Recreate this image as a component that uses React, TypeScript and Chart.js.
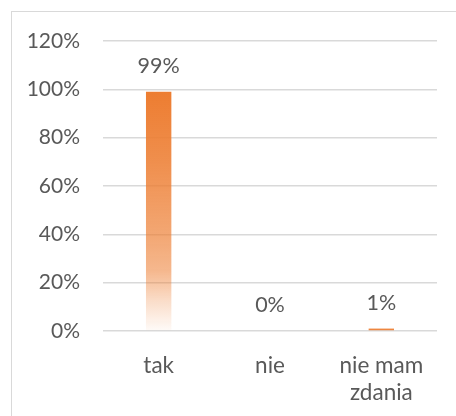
import React, { useEffect, useRef } from "react";
import { Chart, registerables } from "chart.js";

Chart.register(...registerables);

const categories: (string | string[])[] = ["tak", "nie", ["nie mam", "zdania"]];
const values: number[] = [99, 0, 1];
const yTicks: number[] = [0, 20, 40, 60, 80, 100, 120];

const FONT = "Lato, 'Open Sans', sans-serif";
const TEXT = "#595959";

const dataLabels = {
  id: "dataLabels",
  afterDatasetsDraw(chart: any) {
    const ctx = chart.ctx;
    const meta = chart.getDatasetMeta(0);
    ctx.save();
    ctx.font = `21.5px ${FONT}`;
    ctx.fillStyle = TEXT;
    ctx.textAlign = "center";
    ctx.textBaseline = "middle";
    meta.data.forEach((bar: any, i: number) => {
      ctx.fillText(`${values[i]}%`, bar.x, bar.y - 26);
    });
    ctx.restore();
  },
};

export default function App() {
  const ref = useRef<HTMLCanvasElement | null>(null);
  useEffect(() => {
    if (!ref.current) return;
    const chart = new Chart(ref.current, {
      type: "bar",
      data: {
        labels: categories,
        datasets: [
          {
            data: values,
            backgroundColor: (c: any) => {
              const ch = c.chart;
              const y = ch.scales?.y;
              if (!y || c.dataIndex === undefined) return "#ED7D31";
              const v = values[c.dataIndex];
              const top = y.getPixelForValue(v);
              const base = y.getPixelForValue(0);
              if (!isFinite(top) || base - top < 6) return "#EE8640";
              const g = ch.ctx.createLinearGradient(0, top, 0, base);
              g.addColorStop(0, "rgba(237,125,49,1)");
              g.addColorStop(0.3, "rgba(237,125,49,0.86)");
              g.addColorStop(0.6, "rgba(237,125,49,0.68)");
              g.addColorStop(0.75, "rgba(237,125,49,0.55)");
              g.addColorStop(0.88, "rgba(237,125,49,0.25)");
              g.addColorStop(1, "rgba(237,125,49,0.03)");
              return g;
            },
            borderWidth: 0,
            categoryPercentage: 1,
            barPercentage: 0.228,
          },
        ],
      },
      options: {
        animation: false,
        responsive: true,
        maintainAspectRatio: false,
        layout: { padding: { top: 41, right: 19, bottom: 0, left: 0 } },
        plugins: { legend: { display: false }, tooltip: { enabled: false } },
        scales: {
          x: {
            grid: { display: false },
            border: { display: false },
            ticks: {
              color: TEXT,
              font: { family: FONT, size: 22.5, lineHeight: 1.2 },
              padding: 13,
              maxRotation: 0,
              autoSkip: false,
            },
            afterFit: (s: any) => {
              s.height = 85;
            },
          },
          y: {
            min: 0,
            max: 120,
            afterBuildTicks: (s: any) => {
              s.ticks = yTicks.map((v) => ({ value: v }));
            },
            grid: { color: "#d9d9d9", lineWidth: 1.5, drawTicks: false },
            border: { display: false },
            ticks: {
              color: TEXT,
              font: { family: FONT, size: 21 },
              padding: 23,
              callback: (v: any) => `${v}%`,
            },
            afterFit: (s: any) => {
              s.width = 103;
            },
          },
        },
      },
      plugins: [dataLabels],
    });
    return () => chart.destroy();
  }, []);

  return (
    <div
      style={{
        position: "fixed",
        left: 0,
        top: 0,
        width: 456,
        height: 416,
        background: "#fff",
      }}
    >
      <div
        style={{
          position: "absolute",
          left: 11,
          top: 11,
          width: 445,
          height: 405,
          borderTop: "1.5px solid #d9d9d9",
          borderLeft: "1.5px solid #d9d9d9",
        }}
      />
      <div style={{ position: "absolute", left: 0, top: 0, width: 456, height: 416 }}>
        <canvas ref={ref} />
      </div>
    </div>
  );
}
